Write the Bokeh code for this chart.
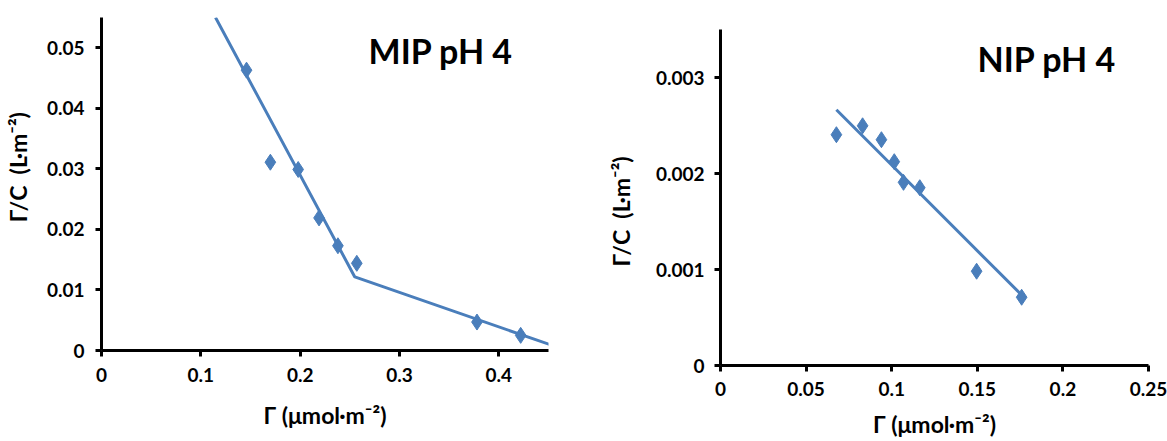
from bokeh.plotting import figure
from bokeh.models import Range1d, FixedTicker, Label
from bokeh.embed import file_html
from bokeh.resources import INLINE

# ---------------- data ----------------
mip_x = [0.146, 0.170, 0.198, 0.219, 0.238, 0.257, 0.378, 0.422]
mip_y = [0.0463, 0.0311, 0.0299, 0.0219, 0.0173, 0.0144, 0.0047, 0.0025]
mip_fit_x = [0.1148, 0.255, 0.451]
mip_fit_y = [0.0550, 0.01215, 0.0010]

nip_x = [0.0677, 0.0830, 0.0940, 0.1015, 0.1069, 0.1164, 0.1496, 0.1759]
nip_y = [0.002404, 0.002497, 0.002352, 0.002123, 0.001908, 0.001852, 0.000982, 0.000711]
nip_fit_x = [0.0677, 0.1756]
nip_fit_y = [0.002664, 0.000739]

mip_xticks = [0, 0.1, 0.2, 0.3, 0.4]
mip_xlabels = ["0", "0.1", "0.2", "0.3", "0.4"]
mip_yticks = [0, 0.01, 0.02, 0.03, 0.04, 0.05]
mip_ylabels = ["0", "0.01", "0.02", "0.03", "0.04", "0.05"]
nip_xticks = [0, 0.05, 0.1, 0.15, 0.2, 0.25]
nip_xlabels = ["0", "0.05", "0.1", "0.15", "0.2", "0.25"]
nip_yticks = [0, 0.001, 0.002, 0.003]
nip_ylabels = ["0", "0.001", "0.002", "0.003"]

NB = "\u00a0"
x_title = "Γ (μmol·m⁻²)"
y_title = "Γ/C" + NB + NB + "(L·m⁻²)"

COLOR = "#4A7EBB"
FONT = "Lato"
H = 441


def make_panel(width, offset, frame, xr, yr, xt, xl, yt, yl,
               tick_stand, xstand, ystand, ytitle):
    left, right, top, bottom = frame  # page pixel coords of plot frame
    p = figure(width=width, height=H, output_backend="svg", toolbar_location=None,
               title=None,
               x_range=Range1d(*xr), y_range=Range1d(*yr),
               min_border_left=left - offset, min_border_right=offset + width - right,
               min_border_top=top, min_border_bottom=H - bottom)
    p.outline_line_color = None
    p.xgrid.grid_line_color = None
    p.ygrid.grid_line_color = None
    p.background_fill_color = "white"
    p.border_fill_color = "white"
    p.xaxis.ticker = FixedTicker(ticks=xt)
    p.yaxis.ticker = FixedTicker(ticks=yt)
    p.xaxis.major_label_overrides = {t: l for t, l in zip(xt, xl)}
    p.yaxis.major_label_overrides = {t: l for t, l in zip(yt, yl)}
    p.xaxis.axis_label = x_title
    p.yaxis.axis_label = ytitle
    p.xaxis.axis_label_standoff = xstand
    p.yaxis.axis_label_standoff = ystand
    for ax in (p.xaxis[0], p.yaxis[0]):
        ax.axis_line_width = 3
        ax.axis_line_color = "black"
        ax.major_tick_line_width = 3
        ax.major_tick_line_color = "black"
        ax.major_tick_out = 6
        ax.major_tick_in = 0
        ax.minor_tick_line_color = None
        ax.major_label_text_font = FONT
        ax.major_label_text_font_style = "bold"
        ax.major_label_text_font_size = "19px"
        ax.major_label_text_color = "black"
        ax.major_label_standoff = tick_stand
        ax.axis_label_text_font = FONT
        ax.axis_label_text_font_style = "bold"
        ax.axis_label_text_font_size = "23px"
        ax.axis_label_text_color = "black"

    def d(px, py):
        x = xr[0] + (px - left) / (right - left) * (xr[1] - xr[0])
        y = yr[0] + (bottom - py) / (bottom - top) * (yr[1] - yr[0])
        return x, y
    return p, d


def lab(p, d, px, py, text, size="34px"):
    x, y = d(px, py)
    p.add_layout(Label(x=x, y=y, text=text, text_font=FONT, text_font_style="bold",
                       text_font_size=size, text_align="left",
                       text_baseline="alphabetic", text_color="black"))


# ---------------- MIP panel ----------------
p1, d1 = make_panel(590, 0, (101, 548, 17, 350), (0, 0.45), (0, 0.055),
                    mip_xticks, mip_xlabels, mip_yticks, mip_ylabels,
                    11, 16, 12, NB * 6 + y_title)
p1.line(mip_fit_x, mip_fit_y, line_color=COLOR, line_width=3)
p1.scatter(mip_x, mip_y, marker="diamond", size=16, fill_color=COLOR, line_color=COLOR)
lab(p1, d1, 368, 50, "MIP pH 4")

# ---------------- NIP panel ----------------
p2, d2 = make_panel(577, 590, (720, 1148, 29, 365), (0, 0.25), (0, 0.0035),
                    nip_xticks, nip_xlabels, nip_yticks, nip_ylabels,
                    10, 11, 18, y_title + NB * 5)
p2.line(nip_fit_x, nip_fit_y, line_color=COLOR, line_width=3)
p2.scatter(nip_x, nip_y, marker="diamond", size=16, fill_color=COLOR, line_color=COLOR)
lab(p2, d2, 977, 58, "NIP pH 4")

# two independent roots (no frame alignment); right panel placed beside the left one
p1.styles = {"position": "absolute", "left": "0px", "top": "0px"}
p2.styles = {"position": "absolute", "left": "590px", "top": "0px"}

open("out.html", "w").write(file_html([p1, p2], INLINE))
